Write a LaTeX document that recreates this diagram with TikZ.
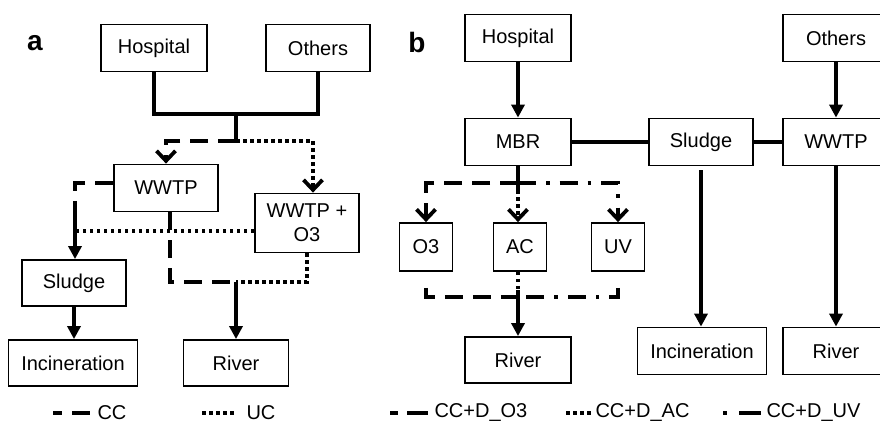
\documentclass[tikz,border=0pt]{standalone}
\usepackage{fontspec}
\setmainfont{Liberation Sans}
\usetikzlibrary{arrows.meta}

\tikzset{
  box/.style={draw, line width=1.8pt, minimum width=106pt, minimum height=47pt,
    inner sep=2pt, align=center, font=\fontsize{20}{24}\selectfont},
  flow/.style={line width=3.8pt},
  cc/.style={flow, dash pattern=on 18pt off 10pt},
  uc/.style={flow, dash pattern=on 3.5pt off 3.5pt},
  uv/.style={flow, dash pattern=on 18pt off 10pt on 3.5pt off 10pt},
  solidtip/.style={-{Triangle[length=13pt,width=13pt]}},
  openhead/.style={-{Straight Barb[length=10pt,width=19pt]}},
  panel/.style={font=\fontsize{28}{30}\selectfont\bfseries},
  legtext/.style={anchor=west, font=\fontsize{20}{24}\selectfont}
}

\begin{document}
\begin{tikzpicture}[x=1pt,y=-1pt]
\useasboundingbox (0,0) rectangle (880,425);

% panel a
\node[panel] (labA) at (35,43) {a};
\node[box] (hospA) at (154,48) {Hospital};
\node[box, minimum width=104pt] (othA) at (318,48) {Others};
\node[box, minimum width=104pt] (wwtpA) at (166,188) {WWTP};
\node[box, minimum width=104pt, minimum height=59pt] (ozoA) at (307,223) {WWTP +\\O3};
\node[box, minimum width=104pt, minimum height=46pt] (sludA) at (74,283) {Sludge};
\node[box, minimum width=129pt, minimum height=46pt] (incA) at (73,363) {Incineration};
\node[box, minimum width=105pt, minimum height=46pt] (rivA) at (236,363) {River};

\coordinate (mergeA) at (236,114);
\coordinate (splitA) at (236,141);
\coordinate (bendA) at (75,205);
\coordinate (sjoinA) at (75,231);
\coordinate (rjoinA) at (236,282);

\draw[flow] (hospA.south) |- (mergeA) -| (othA.south);
\draw[flow] (mergeA) -- (splitA);
\draw[cc, openhead] (splitA) -| (wwtpA.north);
\draw[uc, openhead] (splitA) -| ([xshift=6pt]ozoA.north);
\draw[cc] ([yshift=5pt]wwtpA.west) -| (bendA);
\draw[flow, solidtip] (bendA) -- (bendA |- sludA.north);
\draw[uc] (ozoA.west |- sjoinA) -- (sjoinA);
\draw[cc] ([xshift=4pt]wwtpA.south) |- (rjoinA);
\draw[uc] (ozoA.south) |- (rjoinA);
\draw[flow, solidtip] (rjoinA) -- (rivA.north);
\draw[flow, solidtip] (sludA.south) -- (sludA.south |- incA.north);

\draw[flow, dash pattern=on 9pt off 10pt on 18pt] (53,413) -- (90,413);
\node[legtext] (keyCC) at (94,413) {CC};
\draw[uc] (202,413) -- (236,413);
\node[legtext] (keyUC) at (243,413) {UC};

% panel b
\node[panel] (labB) at (417,42) {b};
\node[box] (hospB) at (518,38) {Hospital};
\node[box] (othB) at (836,38) {Others};
\node[box] (mbr) at (518,142) {MBR};
\node[box, minimum width=104pt] (sludB) at (701,142) {Sludge};
\node[box] (wwtpB) at (836,142) {WWTP};
\node[box, minimum width=53pt, minimum height=48pt] (o3) at (426,247) {O3};
\node[box, minimum width=53pt, minimum height=48pt] (ac) at (520,247) {AC};
\node[box, minimum width=53pt, minimum height=48pt] (uvB) at (618,247) {UV};
\node[box, minimum height=46pt] (rivB) at (518,360) {River};
\node[box, minimum width=129pt] (incB) at (702,351) {Incineration};
\node[box] (rivC) at (836,351) {River};

\coordinate (splitB) at (518,183);
\coordinate (mergeB) at (518,297);

\draw[flow, solidtip] (hospB) -- (mbr);
\draw[flow, solidtip] (othB) -- (wwtpB);
\draw[flow] (mbr) -- (sludB);
\draw[flow] (sludB) -- (wwtpB);
\draw[flow] (mbr.south) -- ([yshift=-7pt]splitB);
\draw[cc, openhead] (splitB) -| (o3.north);
\draw[uv, openhead] (splitB) -| (uvB.north);
\draw[uc, openhead] (splitB) -- (splitB |- ac.north);
\draw[cc] ([yshift=-16pt]o3.south) |- (mergeB);
\draw[uv] ([yshift=-16pt]uvB.south) |- (mergeB);
\draw[uc] (mergeB |- ac.south) -- (mergeB);
\draw[flow, solidtip] ([yshift=7pt]mergeB) -- (rivB.north);
\draw[flow, solidtip] ([yshift=-4pt]sludB.south) -- (sludB.south |- incB.north);
\draw[flow, solidtip] (wwtpB.south) -- (rivC.north);

\draw[flow, dash pattern=on 8pt off 9pt on 21pt] (390,413) -- (428,413);
\node[legtext] (keyO3) at (431,413) {CC+D\_O3};
\draw[uc] (566,413) -- (591,413);
\node[legtext] (keyAC) at (592,413) {CC+D\_AC};
\draw[flow, dash pattern=on 4pt off 12pt on 22pt] (723,413) -- (761,413);
\node[legtext] (keyUV) at (763,413) {CC+D\_UV};
\end{tikzpicture}
\end{document}
